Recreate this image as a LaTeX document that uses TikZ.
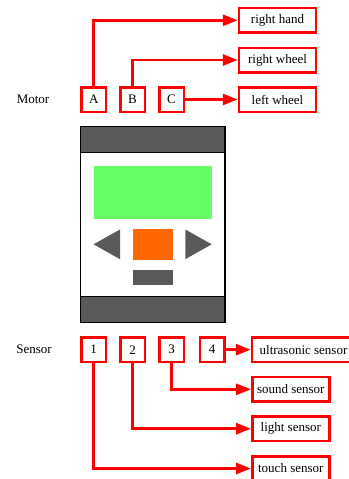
\documentclass[tikz,border=0pt]{standalone}
\usepackage{fontspec}
\setmainfont{Liberation Serif}
\usetikzlibrary{arrows.meta}
\definecolor{devgray}{HTML}{595959}
\definecolor{scrgreen}{HTML}{66FF66}
\definecolor{btnorange}{HTML}{FF6600}
\tikzset{
  portbox/.style={draw=red, line width=2.5pt, fill=white, minimum width=24.5pt, minimum height=24.5pt, inner sep=0pt, font=\fontsize{13}{15}\selectfont},
  targetbox/.style={draw=red, line width=2.5pt, fill=white, minimum width=77pt, minimum height=24.5pt, inner sep=0pt, font=\fontsize{13}{15}\selectfont},
  link/.style={draw=red, line width=2.8pt, -{Triangle[length=15pt,width=11pt]}},
  lbl/.style={font=\fontsize{13}{15}\selectfont},
}
\begin{document}
\begin{tikzpicture}[x=1pt,y=-1pt]
\useasboundingbox (0,0) rectangle (348,479);
\fill[white] (0,0) rectangle (348,479);
% device
\draw[fill=white, line width=1.5pt] (80.5,126.5) rectangle (225,322.5);
\draw[fill=devgray, line width=1.5pt] (80.5,126.5) rectangle (225,152.5);
\draw[fill=devgray, line width=1.5pt] (80.5,296.5) rectangle (225,322.5);
\fill[scrgreen] (93.5,165.5) rectangle (212,218.5);
\fill[devgray] (93.5,244.3) -- (120,229.5) -- (120,259.2) -- cycle;
\fill[devgray] (211.7,244.3) -- (185.3,229.5) -- (185.3,259.2) -- cycle;
\fill[btnorange] (132.7,228.5) rectangle (172.7,260);
\fill[devgray] (132.7,269.5) rectangle (172.7,285);
% motor
\node[lbl] (motor) at (33,99.5) {Motor};
\node[portbox] (A) at (93.7,99.5) {A};
\node[portbox] (B) at (132.5,99.5) {B};
\node[portbox] (C) at (171.5,99.5) {C};
\node[targetbox] (rh) at (277.5,20.3) {right hand};
\node[targetbox] (rw) at (277.5,60) {right wheel};
\node[targetbox] (lw) at (277.5,99.5) {left wheel};
\draw[link] (A) |- (rh);
\draw[link] (B) |- (rw);
\draw[link] (C) -- (lw);
% sensor
\node[lbl] (sensor) at (34,349.5) {Sensor};
\node[portbox] (s1) at (93.7,349.7) {1};
\node[portbox] (s2) at (132.5,349.7) {2};
\node[portbox] (s3) at (171.5,349.7) {3};
\node[portbox] (s4) at (212,349.7) {4};
\node[targetbox, minimum width=103pt] (us) at (303.5,349.7) {ultrasonic sensor};
\node[targetbox] (ss) at (290.8,389.3) {sound sensor};
\node[targetbox] (ls) at (290.8,428.7) {light sensor};
\node[targetbox] (ts) at (290.8,468.5) {touch sensor};
\draw[link] (s4) -- (us);
\draw[link] (s3) |- (ss);
\draw[link] (s2) |- (ls);
\draw[link] (s1) |- (ts);
\end{tikzpicture}
\end{document}
